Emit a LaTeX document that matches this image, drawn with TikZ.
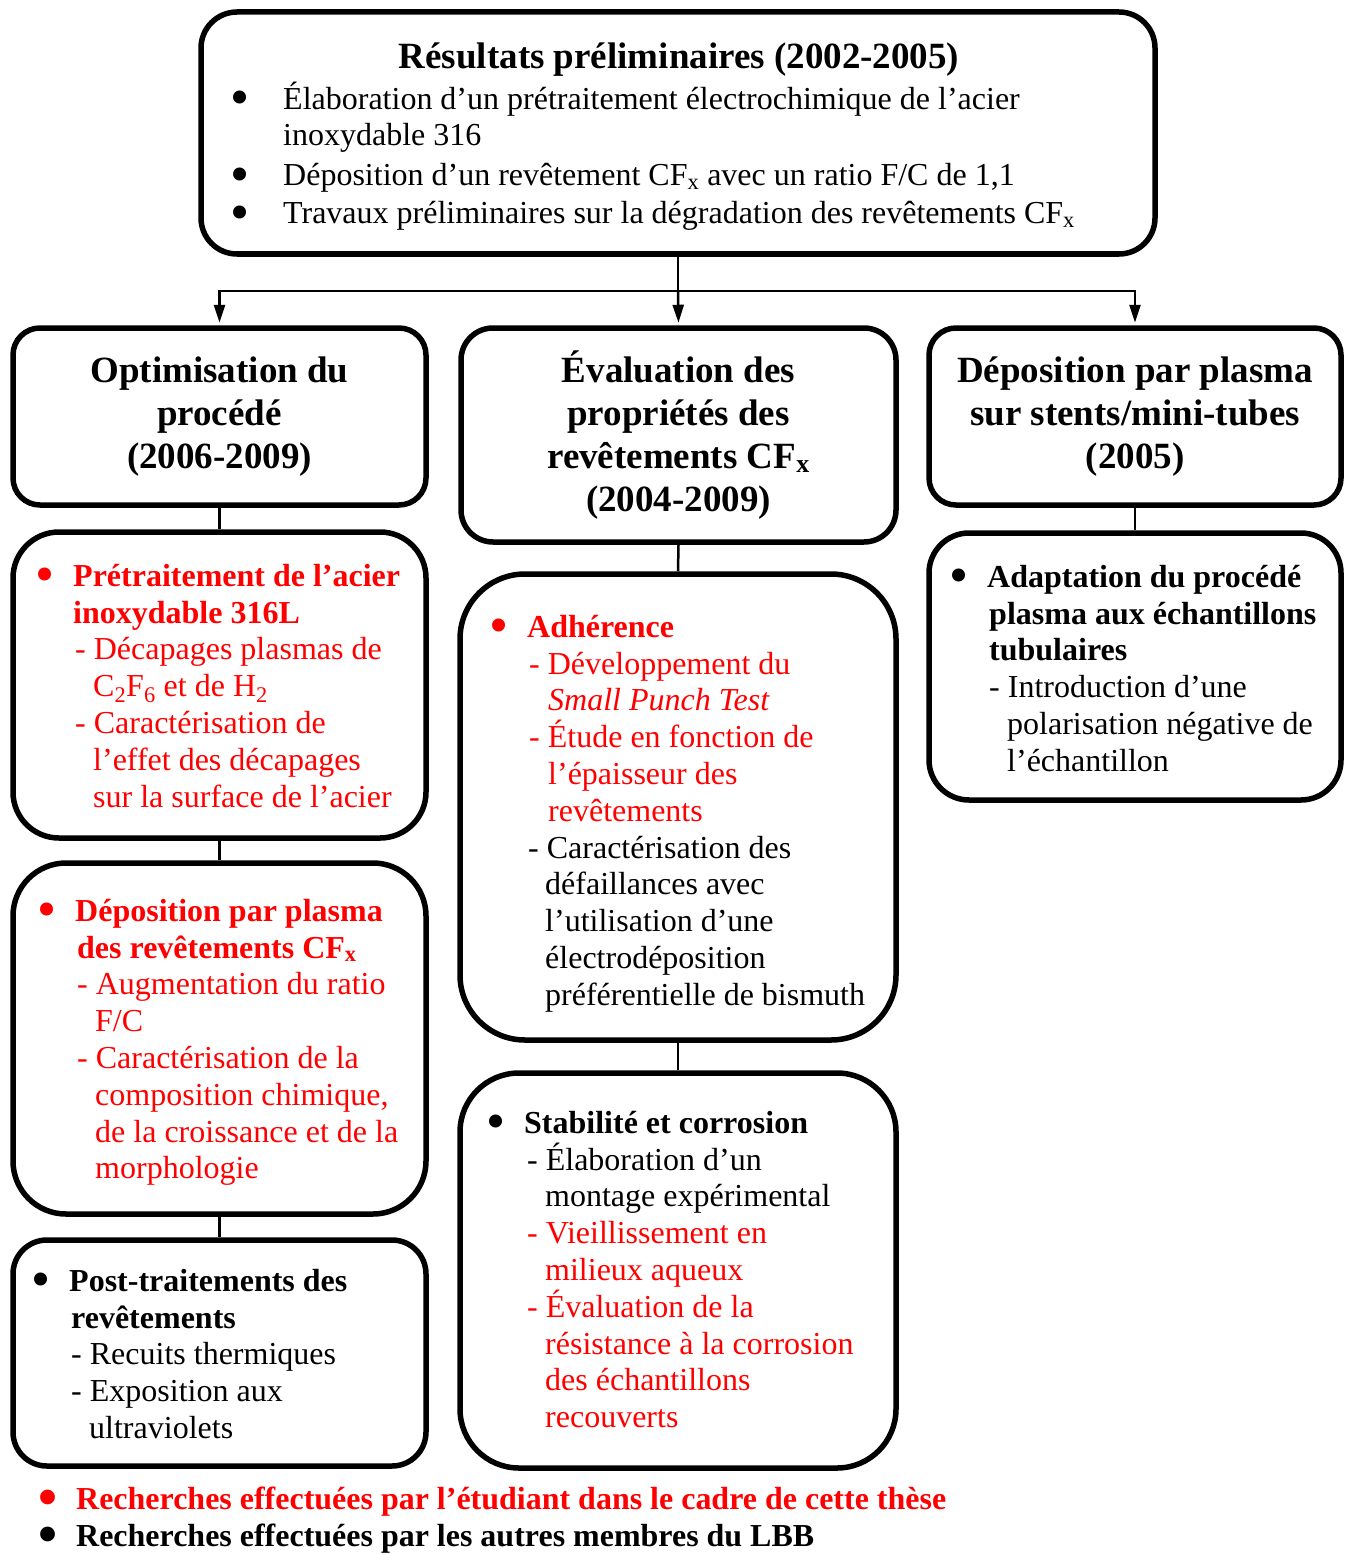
\documentclass[tikz,border=0pt]{standalone}
\usepackage{fontspec}
\setmainfont{Liberation Serif}
\usepackage{graphicx}
\usetikzlibrary{arrows.meta}
\definecolor{myred}{RGB}{255,0,0}
\newcommand\bu{\smash{\raisebox{-6.5pt}{\scalebox{1.7}{\textbullet}}}}
\newcommand\fl{\rule{0pt}{30pt}}
\tikzset{
  box/.style={draw, line width=5.5pt, inner sep=0pt},
  conn/.style={line width=2.5pt},
  arr/.style={conn, -{Triangle[width=11pt,length=18pt]}, shorten >=2.5pt},
  txt/.style={anchor=north west, inner sep=0pt, align=left, font=\fontsize{32}{36.8}\selectfont},
  ttl/.style={align=center, font=\bfseries\fontsize{37}{43}\selectfont},
}
\begin{document}
\begin{tikzpicture}[x=1pt,y=-1pt]
\useasboundingbox (0,0) rectangle (1349,1554);
% boxes
\node[box, minimum width=954pt, minimum height=242pt, rounded corners=36pt] (top) at (678,133) {};
\node[box, ttl, minimum width=413pt, minimum height=177pt, rounded corners=27pt] (opt) at (219.5,416.5) {Optimisation du\\procédé\\(2006-2009)};
\node[box, ttl, minimum width=435pt, minimum height=214pt, rounded corners=32pt] (eva) at (678.5,435) {Évaluation des\\propriétés des\\revêtements CF\textsubscript{x}\\(2004-2009)};
\node[box, ttl, minimum width=412pt, minimum height=177pt, rounded corners=27pt] (dep) at (1135,416.5) {Déposition par plasma\\sur stents/mini-tubes\\(2005)};
\node[box, minimum width=413pt, minimum height=306pt, rounded corners=46pt] (bA) at (219.5,685) {};
\node[box, minimum width=413pt, minimum height=351pt, rounded corners=53pt] (bB) at (219.5,1038.5) {};
\node[box, minimum width=413pt, minimum height=226pt, rounded corners=34pt] (bC) at (219.5,1353) {};
\node[box, minimum width=436pt, minimum height=466pt, rounded corners=65pt] (bD) at (678,807) {};
\node[box, minimum width=436pt, minimum height=395pt, rounded corners=59pt] (bE) at (678,1270.5) {};
\node[box, minimum width=412pt, minimum height=267pt, rounded corners=40pt] (bF) at (1135,666.5) {};
% connectors
\coordinate (j) at (678,291);
\draw[conn] (top.south) -- (j);
\draw[arr] (j) -| (opt.north);
\draw[arr] (j) -- (eva.north);
\draw[arr] (j) -| (dep.north);
\draw[conn] (opt.south) -- (bA.north);
\draw[conn] (bA.south) -- (bB.north);
\draw[conn] (bB.south) -- (bC.north);
\draw[conn] (eva.south) -- (bD.north);
\draw[conn] (bD.south) -- (bE.north);
\draw[conn] (dep.south) -- (bF.north);
% texts
\node[ttl, anchor=base] (ttop) at (679,69) {Résultats préliminaires (2002-2005)};
\node[txt] (tTop) at (230.5,79) {\fl\makebox[52.5pt][l]{\bu}Élaboration d’un prétraitement électrochimique de l’acier\\
\hspace*{52.5pt}inoxydable 316\\[3pt]
\makebox[52.5pt][l]{\bu}Déposition d’un revêtement CF\textsubscript{x} avec un ratio F/C de 1,1\\[1pt]
\makebox[52.5pt][l]{\bu}Travaux préliminaires sur la dégradation des revêtements CF\textsubscript{x}};
\node[txt, text=myred] (tA) at (35.5,556) {\fl\makebox[37.5pt][l]{\bu}\textbf{Prétraitement de l’acier}\\
\hspace*{37.5pt}\textbf{inoxydable 316L}\\
\hspace*{39.5pt}- Décapages plasmas de\\
\hspace*{57.5pt}C\textsubscript{2}F\textsubscript{6} et de H\textsubscript{2}\\
\hspace*{39.5pt}- Caractérisation de\\
\hspace*{57.5pt}l’effet des décapages\\
\hspace*{57.5pt}sur la surface de l’acier};
\node[txt, text=myred] (tB) at (37.5,891) {\fl\makebox[37.5pt][l]{\bu}\textbf{Déposition par plasma}\\
\hspace*{39.5pt}\textbf{des revêtements CF\textsubscript{x}}\\
\hspace*{39.5pt}- Augmentation du ratio\\
\hspace*{57.5pt}F/C\\
\hspace*{39.5pt}- Caractérisation de la\\
\hspace*{57.5pt}composition chimique,\\
\hspace*{57.5pt}de la croissance et de la\\
\hspace*{57.5pt}morphologie};
\node[txt] (tC) at (31.5,1261) {\fl\makebox[37.5pt][l]{\bu}\textbf{Post-traitements des}\\
\hspace*{39.5pt}\textbf{revêtements}\\
\hspace*{39.5pt}- Recuits thermiques\\
\hspace*{39.5pt}- Exposition aux\\
\hspace*{57.5pt}ultraviolets};
\node[txt, text=myred] (tD) at (489.5,607) {\fl\makebox[37.5pt][l]{\bu}\textbf{Adhérence}\\
\hspace*{39.5pt}- Développement du\\
\hspace*{58.5pt}\textit{Small Punch Test}\\
\hspace*{39.5pt}- Étude en fonction de\\
\hspace*{58.5pt}l’épaisseur des\\
\hspace*{58.5pt}revêtements\\
{\color{black}\hspace*{38.5pt}- Caractérisation des}\\
{\color{black}\hspace*{55.5pt}défaillances avec}\\
{\color{black}\hspace*{55.5pt}l’utilisation d’une}\\
{\color{black}\hspace*{55.5pt}électrodéposition}\\
{\color{black}\hspace*{55.5pt}préférentielle de bismuth}};
\node[txt] (tE) at (486.5,1103) {\fl\makebox[37.5pt][l]{\bu}\textbf{Stabilité et corrosion}\\
\hspace*{40.5pt}- Élaboration d’un\\
\hspace*{58.5pt}montage expérimental\\
{\color{myred}\hspace*{40.5pt}- Vieillissement en}\\
{\color{myred}\hspace*{58.5pt}milieux aqueux}\\
{\color{myred}\hspace*{40.5pt}- Évaluation de la}\\
{\color{myred}\hspace*{58.5pt}résistance à la corrosion}\\
{\color{myred}\hspace*{58.5pt}des échantillons}\\
{\color{myred}\hspace*{58.5pt}recouverts}};
\node[txt] (tF) at (949.5,557) {\fl\makebox[37.5pt][l]{\bu}\textbf{Adaptation du procédé}\\
\hspace*{39.5pt}\textbf{plasma aux échantillons}\\
\hspace*{39.5pt}\textbf{tubulaires}\\
\hspace*{39.5pt}- Introduction d’une\\
\hspace*{57.5pt}polarisation négative de\\
\hspace*{57.5pt}l’échantillon};
% legend
\node[txt, anchor=base west, text=myred, font=\bfseries\fontsize{32}{36.8}\selectfont] (lg1) at (38.5,1509) {\makebox[37.5pt][l]{\bu}\resizebox{870pt}{\height}{Recherches effectuées par l’étudiant dans le cadre de cette thèse}};
\node[txt, anchor=base west, font=\bfseries\fontsize{32}{36.8}\selectfont] (lg2) at (38.5,1546) {\makebox[37.5pt][l]{\bu}\resizebox{738pt}{\height}{Recherches effectuées par les autres membres du LBB}};
\end{tikzpicture}
\end{document}
